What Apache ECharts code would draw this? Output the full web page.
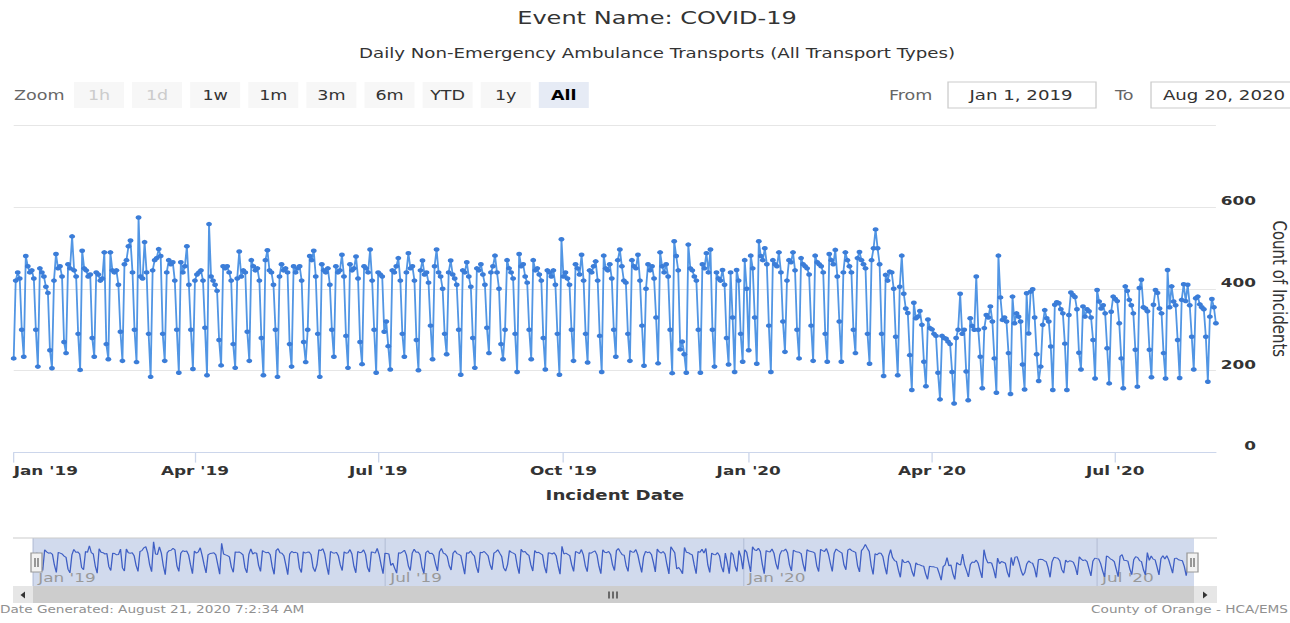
<!DOCTYPE html>
<html>
<head>
<meta charset="utf-8">
<script src="https://cdn.jsdelivr.net/npm/echarts@6/dist/echarts.min.js"></script>
<style>
html,body{margin:0;padding:0;background:#fff;overflow:hidden;width:1290px;height:623px}
#wrap{width:1290px;height:623px;overflow:hidden;position:relative}
#chart{width:993px;height:623px;transform:scaleX(1.2991);transform-origin:0 0}
</style>
</head>
<body>
<div id="wrap"><div id="chart"></div></div>
<script>
// ---- Data: daily counts, Jan 1 2019 .. Aug 20 2020 ----
const jan19 = [230,420,440,425,300,234,480,455,440,445,425,300,210,450,440,430,405,390,250,206,420,485,450,455,430,270,243,460,450,528,445];
const feb19 = [430,290,202,493,450,445,430,435,280,234,440,435,420,425,489,265,228,489,445,440,445,410,295,224,460,470,504,518];
const mar19 = [440,300,221,574,430,425,514,440,290,185,445,470,475,497,480,290,224,440,470,460,465,420,300,195,465,440,455,504,410,300,204];
const apr19 = [420,435,440,445,420,305,189,558,430,420,410,395,275,213,455,450,455,440,420,265,207,425,491,430,445,440,295,224,470,455];
const may19 = [445,450,420,280,189,470,494,445,440,410,300,185,430,460,445,450,440,265,210,455,440,450,455,420,270,221,300,480,470,493,430];
const jun19 = [290,185,460,445,440,450,410,300,234,455,440,445,483,430,285,207,460,445,450,479,425,270,216,455,450,440,496,420,300,195];
const jul19 = [440,435,430,295,320,260,203,445,440,455,475,420,290,234,440,487,450,455,420,275,201,445,469,435,440,415,310,228,455,496,440];
const aug19 = [430,400,290,240,440,469,435,425,410,300,190,445,440,465,430,405,280,207,450,445,460,435,410,305,243,440,455,481,440,400,265];
const sep19 = [228,300,470,450,440,425,290,197,485,455,460,430,415,300,228,470,445,450,435,420,280,203,445,440,430,445,410,290,190,521];
const oct19 = [430,440,425,410,300,224,460,450,435,483,420,290,220,445,440,455,467,420,285,197,481,450,445,460,425,300,234,470,496,455,420];
const nov19 = [415,290,224,470,455,450,483,420,310,212,400,460,445,455,425,330,218,489,455,440,460,430,300,194,516,480,445,252,271,240];
const dec19 = [195,508,450,445,430,420,300,195,460,450,487,440,496,300,210,440,425,420,446,410,280,215,440,330,197,446,420,290,222,470,400];
const jan20 = [250,481,450,330,217,516,480,470,499,460,310,197,470,460,455,489,440,320,246,420,470,465,489,445,300,230,475,460,455,450,435];
const feb20 = [310,224,481,465,460,455,440,290,222,485,470,460,495,430,320,222,440,489,470,455,440,300,243,475,490,470,460,450,290];
const mar20 = [217,470,499,545,499,460,290,187,434,420,442,440,400,283,189,405,481,388,352,341,238,153,366,328,332,346,312,222,162,325,304];
const apr20 = [301,290,285,195,130,285,280,278,271,265,197,120,280,300,388,290,300,198,128,328,309,300,430,300,234,157,304,336,330,357];
const may20 = [320,230,146,481,379,324,330,320,243,143,381,316,340,332,320,215,154,389,291,393,399,330,240,175,210,312,348,328,320,259,153];
const jun20 = [361,367,365,350,340,266,153,336,391,385,380,350,244,203,357,332,350,345,330,275,181,397,369,352,360,340,255,169,344,381];
const jul20 = [375,370,316,230,157,406,395,373,360,340,251,161,402,422,355,352,345,251,184,361,397,390,352,340,243,181,446,355,406,369,360];
const aug20 = [275,182,373,411,370,410,360,283,203,377,381,362,355,350,283,173,332,375,355,316];

const mainTickDates  = ['2019-01-01','2019-04-01','2019-07-01','2019-10-01','2020-01-01','2020-04-01','2020-07-01'];
const mainTickLabels = ["Jan '19","Apr '19","Jul '19","Oct '19","Jan '20","Apr '20","Jul '20"];
const navTickDates   = ['2019-01-01','2019-07-01','2020-01-01','2020-07-01'];
const navTickLabels  = ["Jan '19","Jul '19","Jan '20","Jul '20"];
const rangeButtons   = ['1h','1d','1w','1m','3m','6m','YTD','1y','All'];

const values = [].concat(jan19,feb19,mar19,apr19,may19,jun19,jul19,aug19,sep19,oct19,nov19,dec19,
                         jan20,feb20,mar20,apr20,may20,jun20,jul20,aug20);
const startMs = Date.UTC(2019,0,1);
const dates = values.map((_, i) => new Date(startMs + i*86400000).toISOString().slice(0,10));

const labelOf = {};
mainTickDates.forEach((d,i)=>labelOf[d]=mainTickLabels[i]);
const navLabelOf = {};
navTickDates.forEach((d,i)=>navLabelOf[d]=navTickLabels[i]);
const isMainTick = (i, v) => mainTickDates.indexOf(v) >= 0;
const isNavTick  = (i, v) => navTickDates.indexOf(v) >= 0;

// ---- layout helpers (chart is drawn 993px wide and stretched to 1290px) ----
const S = 1290/993;
const X = v => v / S;
const FONT = "'DejaVu Sans', sans-serif";

function rect(x,y,w,h,fill,stroke,z){
  return {type:'rect', silent:true, z:z||10, shape:{x:X(x),y:y,width:X(w),height:h},
          style:{fill:fill, stroke:stroke||null, lineWidth:stroke?1:0}};
}
function txt(x,y,t,size,fill,align,weight){
  return {type:'text', silent:true, z:11, x:X(x), y:y,
          style:{text:t, fill:fill, font:(weight||'normal')+' '+size+'px '+FONT,
                 textAlign:align||'left', textVerticalAlign:'middle'}};
}
function line(x1,y1,x2,y2,color,w,z){
  return {type:'line', silent:true, z:z||11, shape:{x1:X(x1),y1:y1,x2:X(x2),y2:y2},
          style:{stroke:color, lineWidth:w||1}};
}
function poly(points,fill){
  return {type:'polygon', silent:true, z:12, shape:{points:points.map(p=>[X(p[0]),p[1]])}, style:{fill:fill}};
}

const graphics = [];
// titles
graphics.push(txt(657,18,'Event Name: COVID-19',18.5,'#333','center'));
graphics.push(txt(657,53,'Daily Non-Emergency Ambulance Transports (All Transport Types)',14,'#333','center'));
// range selector
graphics.push(txt(14,95,'Zoom',13.5,'#666','left'));
rangeButtons.forEach((b,i)=>{
  const x0 = 74 + i*58.1;
  const sel = b === 'All';
  const dis = (b === '1h' || b === '1d');
  graphics.push(rect(x0,82,50,26, sel ? '#e6ebf5' : '#f7f7f7'));
  graphics.push(txt(x0+25,95,b,13.5, dis ? '#cccccc' : (sel ? '#000' : '#333'),'center', sel?'bold':'normal'));
});
graphics.push(txt(889,95,'From',13.5,'#666','left'));
graphics.push(rect(948,82,148,26,'#fff','#cccccc'));
graphics.push(txt(1021,95,'Jan 1, 2019',14,'#333','center'));
graphics.push(txt(1115,95,'To',13.5,'#666','left'));
graphics.push(rect(1151,82,148,26,'#fff','#cccccc'));
graphics.push(txt(1224,95,'Aug 20, 2020',14,'#333','center'));
// navigator outline, handles, scrollbar
graphics.push(line(13,538,1217,538,'#cccccc',1,9));
graphics.push(rect(13,586,1204,17,'#f2f2f2'));
graphics.push(rect(33,586,1161,17,'#cdcdcd'));
graphics.push(rect(13,586,20,17,'#e6e6e6'));
graphics.push(rect(1194,586,23,17,'#e6e6e6'));
graphics.push(poly([[25,591.5],[25,598.5],[20.5,595]],'#333'));
graphics.push(poly([[1203,591.5],[1203,598.5],[1207.5,595]],'#333'));
[609,613,617].forEach(x=>graphics.push(line(x,591.5,x,598.5,'#333',1,12)));
[[31,553],[1187,553]].forEach(([hx,hy])=>{
  graphics.push(rect(hx,hy,11,19,'#f2f2f2','#999999',13));
  graphics.push(line(hx+4,hy+5,hx+4,hy+14,'#666',1,14));
  graphics.push(line(hx+7,hy+5,hx+7,hy+14,'#666',1,14));
});
// footer
graphics.push(txt(0,610,'Date Generated: August 21, 2020 7:2:34 AM',10.5,'#909090','left'));
graphics.push(txt(1288,610,'County of Orange - HCA/EMS',10.5,'#909090','right'));

const chart = echarts.init(document.getElementById('chart'), null, {renderer:'svg'});
chart.setOption({
  animation:false,
  backgroundColor:'#ffffff',
  textStyle:{fontFamily:FONT},
  grid:[
    {left:X(13.7), width:X(1202.2), top:125, height:327.6, outerBoundsMode:'none', containLabel:false},
    {left:X(33), width:X(1161), top:538, height:48, show:true, outerBoundsMode:'none', containLabel:false,
     backgroundColor:'rgba(102,133,194,0.3)', borderWidth:0}
  ],
  xAxis:[
    {type:'category', gridIndex:0, data:dates, boundaryGap:false,
     axisLine:{lineStyle:{color:'#ccd6eb'}},
     axisTick:{interval:isMainTick, length:10, lineStyle:{color:'#ccd6eb'}},
     axisLabel:{interval:isMainTick, formatter:v=>labelOf[v], color:'#333', fontWeight:'bold',
                fontSize:13, margin:12, alignMinLabel:'left', fontFamily:FONT},
     splitLine:{show:false},
     name:'Incident Date', nameLocation:'middle', nameGap:36,
     nameTextStyle:{color:'#333', fontWeight:'bold', fontSize:14, fontFamily:FONT}},
    {type:'category', gridIndex:1, data:dates, boundaryGap:false,
     axisLine:{show:false}, axisTick:{show:false},
     axisLabel:{inside:true, interval:isNavTick, formatter:v=>navLabelOf[v], color:'#999',
                fontSize:13, align:'left', margin:2, padding:[0,0,0,4], fontFamily:FONT},
     splitLine:{show:true, interval:isNavTick, lineStyle:{color:'#b9c3da'}}}
  ],
  yAxis:[
    {type:'value', gridIndex:0, position:'right', min:0, max:800, interval:200,
     axisLine:{show:false}, axisTick:{show:false},
     splitLine:{lineStyle:{color:'#e6e6e6'}},
     axisLabel:{showMaxLabel:false, color:'#333', fontWeight:'bold', fontSize:13,
                align:'right', margin:X(40), verticalAlign:'bottom', fontFamily:FONT},
     name:'Count of Incidents', nameLocation:'middle', nameRotate:-90, nameGap:X(53),
     nameTextStyle:{color:'#333', fontSize:15, fontFamily:FONT}},
    {type:'value', gridIndex:1, min:50, max:620, show:false, splitLine:{show:false}}
  ],
  series:[
    {type:'line', name:'Transports', xAxisIndex:0, yAxisIndex:0, data:values,
     symbol:'circle', symbolSize:4.5, showAllSymbol:true, silent:true,
     lineStyle:{color:'#5296e4', width:1.4}, itemStyle:{color:'#3b7dd8'}},
    {type:'line', name:'Navigator', xAxisIndex:1, yAxisIndex:1, data:values,
     symbol:'none', silent:true, lineStyle:{color:'#3f5fc4', width:1}}
  ],
  graphic:graphics
});
</script>
</body>
</html>
